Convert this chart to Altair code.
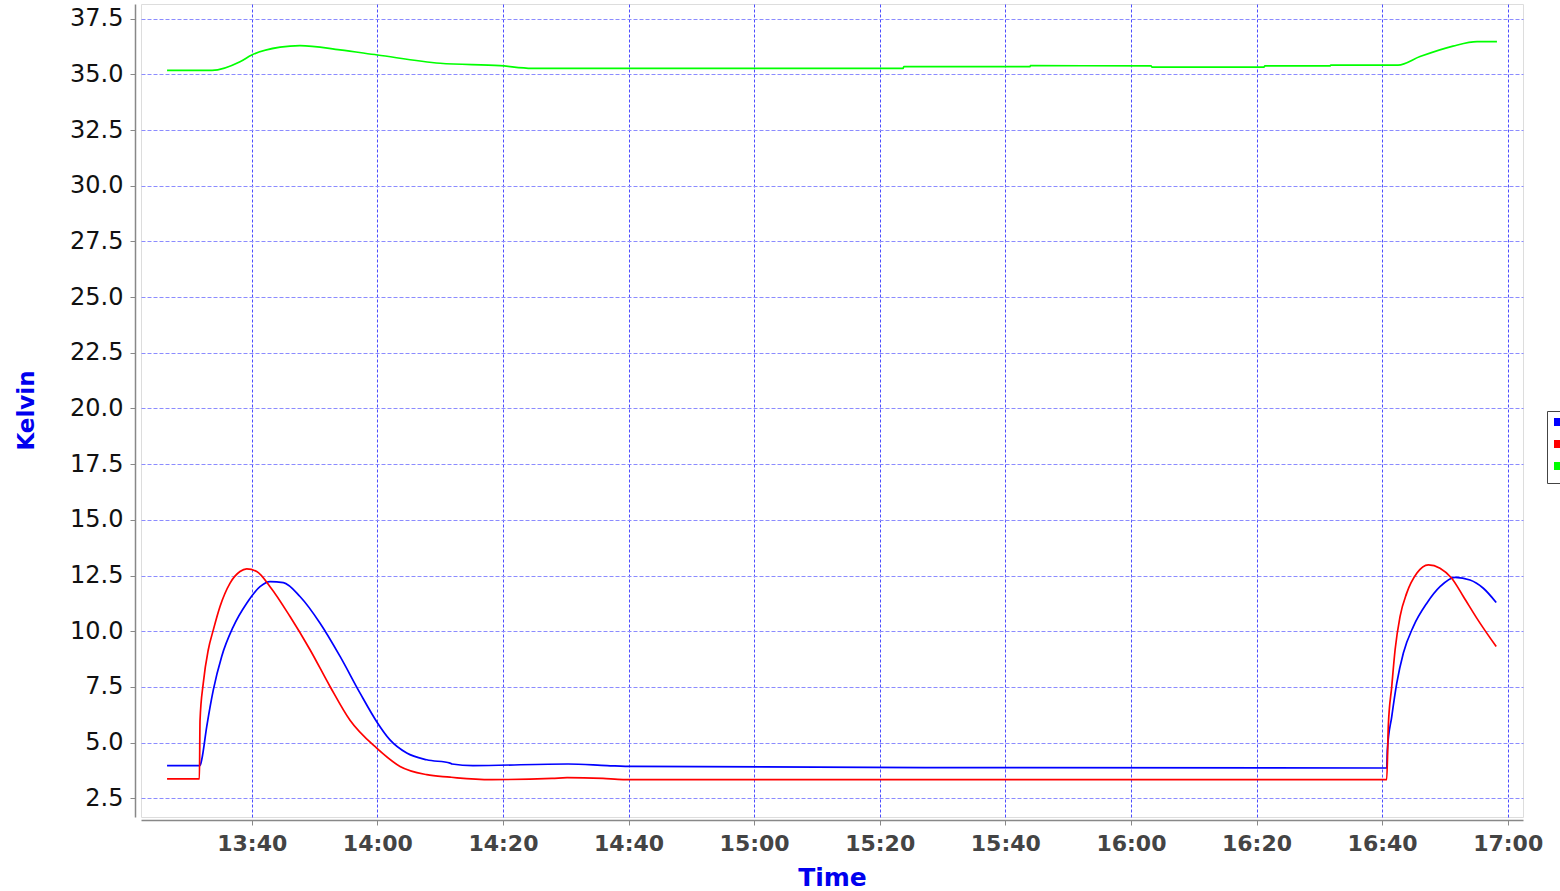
import altair as alt
import pandas as pd

DATE = "2020-01-01T"

series_names = ["Stage 1", "Stage 2", "Shield"]
series_colors = ["#0000ff", "#ff0000", "#00ff00"]

blue_time = ["13:26:31", "13:31:46", "13:32:02", "13:32:50", "13:33:53", "13:35:13", "13:37:04",
             "13:39:12", "13:41:19", "13:42:55", "13:45:02", "13:47:41", "13:50:53", "13:54:04",
             "13:57:15", "13:59:54", "14:02:01", "14:04:41", "14:07:52", "14:11:35", "14:11:54",
             "14:15:14", "14:30:22", "14:36:35", "14:40:43", "15:27:13", "16:40:44", "16:40:50",
             "16:41:32", "16:42:20", "16:43:23", "16:44:58", "16:47:07", "16:49:13", "16:51:37",
             "16:54:00", "16:56:07", "16:58:10"]
blue_val = [3.97, 3.97, 4.23, 5.72, 7.37, 8.87, 10.21,
            11.26, 12.00, 12.23, 12.18, 11.56, 10.36, 8.87,
            7.22, 5.94, 5.12, 4.53, 4.23, 4.08, 4.04,
            3.97, 4.04, 3.97, 3.93, 3.88, 3.86, 4.67,
            6.17, 7.67, 9.02, 10.21, 11.26, 12.00, 12.42,
            12.30, 11.93, 11.29]

red_time = ["13:26:31", "13:31:40", "13:31:46", "13:32:17", "13:33:05", "13:33:53", "13:34:57",
            "13:36:33", "13:38:08", "13:39:12", "13:40:48", "13:42:55", "13:46:06", "13:49:17",
            "13:52:28", "13:55:39", "13:59:54", "14:03:37", "14:07:52", "14:11:35", "14:12:41",
            "14:18:16", "14:27:49", "14:30:13", "14:35:56", "14:39:08", "16:40:44", "16:40:59",
            "16:41:32", "16:42:04", "16:42:51", "16:43:55", "16:45:31", "16:47:22", "16:49:13",
            "16:51:05", "16:52:56", "16:55:04", "16:58:10"]
red_val = [3.37, 3.37, 6.00, 7.67, 9.17, 10.06, 11.11,
           12.16, 12.68, 12.80, 12.68, 12.00, 10.66, 9.17,
           7.52, 6.00, 4.75, 3.93, 3.56, 3.45, 3.42,
           3.34, 3.39, 3.43, 3.39, 3.34, 3.34, 5.72,
           7.52, 9.17, 10.66, 11.71, 12.60, 12.98, 12.83,
           12.38, 11.56, 10.59, 9.31]

green_time = ["13:26:31", "13:33:41", "13:38:08", "13:40:00", "13:44:31", "13:47:41", "13:54:04",
              "14:00:00", "14:10:00", "14:19:32", "14:24:38", "15:23:43", "15:23:50", "15:43:56",
              "15:44:00", "16:03:12", "16:03:20", "16:21:11", "16:21:20", "16:31:42", "16:31:50",
              "16:42:32", "16:46:02", "16:51:17", "16:55:07", "16:58:17"]
green_val = [35.18, 35.18, 35.57, 35.87, 36.22, 36.29, 36.10,
             35.87, 35.50, 35.39, 35.27, 35.27, 35.35, 35.35,
             35.39, 35.38, 35.33, 35.33, 35.38, 35.38, 35.42,
             35.42, 35.80, 36.27, 36.47, 36.47]

y_ticks = [2.5, 5.0, 7.5, 10.0, 12.5, 15.0, 17.5, 20.0, 22.5, 25.0, 27.5, 30.0, 32.5, 35.0, 37.5]
x_tick_times = [(13, 40), (14, 0), (14, 20), (14, 40), (15, 0), (15, 20), (15, 40),
                (16, 0), (16, 20), (16, 40), (17, 0)]

rows = []
for name, ts, vs in zip(series_names, [blue_time, red_time, green_time], [blue_val, red_val, green_val]):
    for t, v in zip(ts, vs):
        rows.append({"series": name, "time": DATE + t, "kelvin": v})
df = pd.DataFrame(rows)


def dt(h, m, s=0):
    return alt.DateTime(year=2020, month=1, date=1, hours=h, minutes=m, seconds=s)


x_axis = alt.Axis(
    values=[dt(h, m) for h, m in x_tick_times],
    format="%H:%M",
    labelFont="DejaVu Sans", labelFontWeight="bold", labelFontSize=22, labelColor="#444444",
    labelPadding=8, labelFlush=False, labelOverlap=False, labelBound=False,
    tickSize=5, tickColor="#888888", domainColor="#888888", domainWidth=1.5,
    offset=3,
    grid=True, gridColor="#4d4dff", gridDash=[3, 2], gridWidth=1,
    title="Time", titleFont="DejaVu Sans", titleFontWeight="bold", titleFontSize=25,
    titleColor="#0000ee", titleY=65, titleBaseline="alphabetic",
)

y_axis = alt.Axis(
    values=y_ticks, format=".1f",
    labelFont="DejaVu Sans", labelFontSize=24, labelColor="#111111", labelPadding=7,
    labelOverlap=False, labelBound=False, labelFlush=False,
    tickSize=5, tickColor="#888888", domainColor="#888888", domainWidth=1.5,
    offset=6,
    grid=True, gridColor="#8c8cff", gridDash=[4, 2], gridWidth=1,
    title="Kelvin", titleFont="DejaVu Sans", titleFontWeight="bold", titleFontSize=23,
    titleColor="#0000ee", titleAngle=270, titleX=-109, titleY=406,
    titleAlign="center", titleBaseline="middle",
)

legend = alt.Legend(
    orient="none", legendX=1406, legendY=407, title=None,
    symbolType="square", symbolSize=16, symbolStrokeWidth=4,
    labelExpr="''", labelFontSize=8, rowPadding=2, padding=7,
    strokeColor="#444444", fillColor="#ffffff",
)

chart = alt.Chart(df).mark_line(strokeWidth=1.7, interpolate="monotone").encode(
    x=alt.X("time:T", axis=x_axis,
            scale=alt.Scale(domain=[dt(13, 22, 22), dt(17, 2, 26)], nice=False)),
    y=alt.Y("kelvin:Q", axis=y_axis,
            scale=alt.Scale(domain=[1.66, 38.16], nice=False, zero=False)),
    color=alt.Color("series:N", legend=legend,
                    scale=alt.Scale(domain=series_names, range=series_colors)),
).properties(
    width=1382, height=813,
    autosize=alt.AutoSizeParams(type="none"),
    padding={"left": 141, "top": 4, "right": 37, "bottom": 74},
).configure_view(
    stroke="#888888", strokeWidth=1,
).configure(background="#ffffff")

chart.save("out.html", embed_options={"renderer": "svg", "actions": False})
